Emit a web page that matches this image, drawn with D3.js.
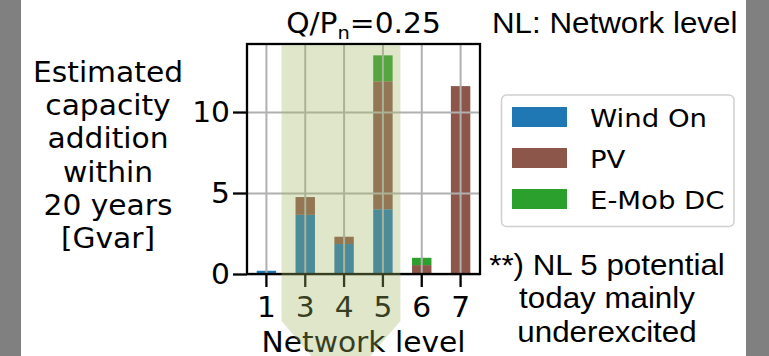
<!DOCTYPE html>
<html>
<head>
<meta charset="utf-8">
<script src="https://cdn.jsdelivr.net/npm/d3@7"></script>
<style>
    body { margin: 0; background: #fff; }
    svg { display: block; }
    text { font-family: "DejaVu Sans", sans-serif; fill: #000; }
    .arial { font-family: "Liberation Sans", Arial, sans-serif; }
</style>
</head>
<body>
<div id="chart"></div>
<script>
// Data
const levels = ["1", "3", "4", "5", "6", "7"];
const windOn = [0.2, 3.65, 1.85, 4.0, 0, 0];
const pv = [0, 1.1, 0.45, 7.9, 0.55, 11.6];
const eMobDC = [0, 0, 0, 1.6, 0.45, 0];
const seriesNames = ["Wind On", "PV", "E-Mob DC"];
const seriesColors = ["#1f77b4", "#8c564b", "#2ca02c"];
const yTicks = [0, 5, 10];
const yMax = 14.2;
const highlighted = ["3", "4", "5"];
const yLabelLines = ["Estimated", "capacity", "addition", "within", "20 years", "[Gvar]"];
const noteLines = ["**) NL 5 potential", "today mainly", "underexcited"];

const width = 769, height = 356;
const SX = 1.08; // text in the picture is slightly wider than tall
const plot = { left: 247, right: 480, top: 44, bottom: 274 };

const svg = d3.select("#chart")
    .append("svg")
    .attr("width", width)
    .attr("height", height);

svg.append("rect").attr("width", width).attr("height", height).attr("fill", "#fff");
// grey side strips
svg.append("rect").attr("x", 0).attr("y", 0).attr("width", 21).attr("height", height).attr("fill", "#808080");
svg.append("rect").attr("x", 746).attr("y", 0).attr("width", width - 746).attr("height", height).attr("fill", "#808080");

// Scales
const x = d3.scaleBand()
    .domain(levels)
    .range([plot.left, plot.right])
    .paddingInner(0.5)
    .paddingOuter(0.25);

const y = d3.scaleLinear()
    .domain([0, yMax])
    .range([plot.bottom, plot.top]);

// Stack the series
const rows = levels.map((l, i) => ({ level: l, "Wind On": windOn[i], "PV": pv[i], "E-Mob DC": eMobDC[i] }));
const stacked = d3.stack().keys(seriesNames)(rows);
const color = d3.scaleOrdinal().domain(seriesNames).range(seriesColors);

// Bars
svg.append("g")
    .selectAll("g")
    .data(stacked)
    .enter()
    .append("g")
    .attr("fill", d => color(d.key))
    .selectAll("rect")
    .data(d => d.filter(s => s[1] - s[0] > 0))
    .enter()
    .append("rect")
    .attr("x", d => x(d.data.level))
    .attr("width", x.bandwidth())
    .attr("y", d => y(d[1]))
    .attr("height", d => y(d[0]) - y(d[1]));

// Grid lines (drawn over the bars, like the original)
const gridX = svg.append("g")
    .attr("transform", `translate(0,${plot.bottom})`)
    .call(d3.axisBottom(x).tickSize(-(plot.bottom - plot.top)).tickFormat(""));
const gridY = svg.append("g")
    .attr("transform", `translate(${plot.left},0)`)
    .call(d3.axisLeft(y).tickValues(yTicks).tickSize(-(plot.right - plot.left)).tickFormat(""));
[gridX, gridY].forEach(g => {
    g.select(".domain").remove();
    g.selectAll(".tick line").attr("stroke", "#b0b0b0").attr("stroke-width", 2);
});

// Axes ticks and labels
const yAxis = svg.append("g")
    .attr("transform", `translate(${plot.left},0)`)
    .call(d3.axisLeft(y).tickValues(yTicks).tickSize(14).tickPadding(3));
yAxis.select(".domain").remove();
yAxis.selectAll(".tick line").attr("stroke", "#000").attr("stroke-width", 2.3);
yAxis.selectAll(".tick text")
    .attr("font-family", "DejaVu Sans")
    .attr("font-size", 27.5)
    .attr("fill", "#000")
    .attr("x", -17 / SX)
    .attr("dy", "0.36em")
    .attr("transform", `scale(${SX},1)`);

const xAxis = svg.append("g")
    .attr("transform", `translate(0,${plot.bottom})`)
    .call(d3.axisBottom(x).tickSize(13));
xAxis.select(".domain").remove();
xAxis.selectAll(".tick line").attr("stroke", "#000").attr("stroke-width", 2.3);
xAxis.selectAll(".tick text")
    .attr("font-family", "DejaVu Sans")
    .attr("font-size", 27.5)
    .attr("fill", "#000")
    .attr("y", 43)
    .attr("dy", 0)
    .attr("transform", `scale(${SX},1)`);

// Frame
svg.append("rect")
    .attr("x", plot.left)
    .attr("y", plot.top)
    .attr("width", plot.right - plot.left)
    .attr("height", plot.bottom - plot.top)
    .attr("fill", "none")
    .attr("stroke", "#000")
    .attr("stroke-width", 2.3);

// helper for stretched text
function label(txt, px, py, opts = {}) {
    const t = svg.append("text")
        .attr("transform", `translate(${px},${py}) scale(${SX},1)`)
        .attr("text-anchor", opts.anchor || "middle")
        .attr("font-size", opts.size || 27.5)
        .text(txt);
    if (opts.cls) t.attr("class", opts.cls);
    return t;
}

// Title with subscript
const title = svg.append("text")
    .attr("transform", `translate(${(plot.left + plot.right) / 2},33) scale(${SX},1)`)
    .attr("text-anchor", "middle")
    .attr("font-size", 27.5);
title.append("tspan").text("Q/P");
title.append("tspan").attr("font-size", 18).attr("dy", 6).text("n");
title.append("tspan").attr("dy", -6).text("=0.25");

// Axis titles
label("Network level", (plot.left + plot.right) / 2, 352);
yLabelLines.forEach((line, i) => label(line, 108, 81.7 + i * 33.3));

// Top-right note
label("NL: Network level", 492, 33, { anchor: "start", size: 29, cls: "arial" });

// Legend
const legend = svg.append("g");
legend.append("rect")
    .attr("x", 501.5).attr("y", 95)
    .attr("width", 232.5).attr("height", 131.5)
    .attr("rx", 5)
    .attr("fill", "#fff")
    .attr("stroke", "#d0d0d0")
    .attr("stroke-width", 1.5);
seriesNames.forEach((name, i) => {
    const cy = 117 + i * 41;
    legend.append("rect")
        .attr("x", 512).attr("y", cy - 10)
        .attr("width", 55).attr("height", 20)
        .attr("fill", color(name));
    label(name, 590, cy + 10, { anchor: "start", size: 25.5 });
});

// Footnote
noteLines.forEach((line, i) => label(line, 607, 275 + i * 33.3, { size: 29, cls: "arial" }));

// Highlight of network levels 3-5 (semi-transparent, on top)
const step = x.step();
const hl = x(highlighted[0]) - 0.36 * step;
const hr = x(highlighted[highlighted.length - 1]) + x.bandwidth() + 0.2 * step;
const hMid = (hl + hr) / 2;
svg.append("polygon")
    .attr("points", [
        [hl, plot.top + 1.2], [hr, plot.top + 1.2], [hr, 321],
        [hMid, 321 + (hr - hl) / 2 * 35 / 30], [hl, 321]
    ].map(p => p.join(",")).join(" "))
    .attr("fill", "rgb(160,182,100)")
    .attr("fill-opacity", 0.34);
</script>
</body>
</html>
